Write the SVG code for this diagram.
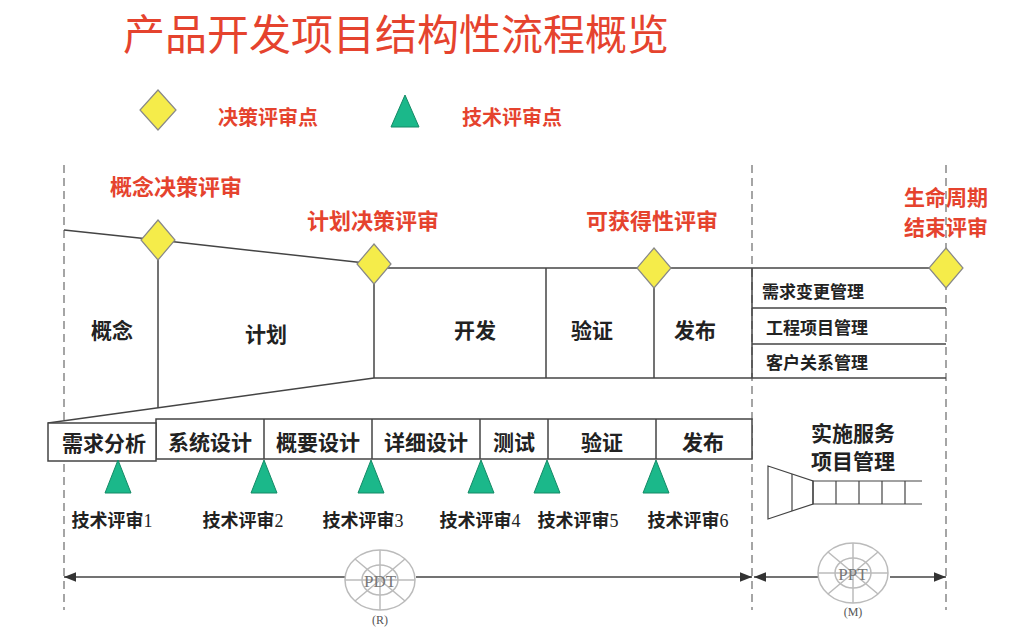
<svg xmlns="http://www.w3.org/2000/svg" width="1024" height="643" viewBox="0 0 1024 643">
<style>
text{font-family:"Noto Sans CJK SC","Liberation Sans",sans-serif;font-weight:bold}
.red{fill:#e5432e;font-size:22px}
.blk{fill:#222;font-size:21px}
.ln{stroke:#444;stroke-width:1.5;fill:none}
.dash{stroke:#888;stroke-width:1.5;stroke-dasharray:8 5}
.dia{fill:#f5ec4a;stroke:#888;stroke-width:1.2}
.tri{fill:#1bb88a;stroke:#148a66;stroke-width:1}
.bx{fill:#fff;stroke:#444;stroke-width:1.5}
.lg{fill:none;stroke:#bbb;stroke-width:1.5}
.tr{fill:#222;font-size:18px}
.sm{fill:#222;font-size:17px}
</style>
<defs><marker id="ar" viewBox="0 0 10 10" refX="10" refY="5" markerWidth="8" markerHeight="8" orient="auto-start-reverse"><path d="M0,1L10,5L0,9z" fill="#333"/></marker></defs>
<rect width="1024" height="643" fill="#fff"/>
<text x="123" y="50" style="fill:#e5432e;font-size:42px;font-weight:normal">产品开发项目结构性流程概览</text>
<g id="legend">
<polygon class="dia" points="158,90 176,110 158,130 140,110"/>
<text class="red" x="218" y="125" style="font-size:20px">决策评审点</text>
<polygon class="tri" points="405,95 419,127 391,127"/>
<text class="red" x="462" y="125" style="font-size:20px">技术评审点</text>
</g>
<g id="connectors">
<line class="dash" x1="64" y1="165" x2="64" y2="610"/>
<line class="dash" x1="752" y1="165" x2="752" y2="610"/>
<line class="dash" x1="946" y1="165" x2="946" y2="610"/>
<polyline class="ln" points="64,230 158,240 374,264"/>
<line class="ln" x1="374" y1="268" x2="946" y2="268"/>
<line class="ln" x1="374" y1="378" x2="946" y2="378"/>
<line class="ln" x1="48" y1="423" x2="374" y2="378"/>
<line class="ln" x1="158" y1="240" x2="158" y2="408"/>
<line class="ln" x1="374" y1="264" x2="374" y2="378"/>
<line class="ln" x1="546" y1="268" x2="546" y2="378"/>
<line class="ln" x1="654" y1="268" x2="654" y2="378"/>
<line class="ln" x1="752" y1="268" x2="752" y2="378"/>
<line class="ln" x1="752" y1="308" x2="946" y2="308"/>
<line class="ln" x1="752" y1="344" x2="946" y2="344"/>
<line class="ln" x1="64" y1="577" x2="345" y2="577" marker-start="url(#ar)"/>
<line class="ln" x1="416" y1="577" x2="752" y2="577" marker-end="url(#ar)"/>
<line class="ln" x1="754" y1="577" x2="818" y2="577" marker-start="url(#ar)"/>
<line class="ln" x1="890" y1="577" x2="946" y2="577" marker-end="url(#ar)"/>
</g>
<g id="decisions">
<polygon class="dia" points="158,220 175,240 158,260 141,240"/>
<polygon class="dia" points="374,244 391,264 374,284 357,264"/>
<polygon class="dia" points="654,248 671,268 654,288 637,268"/>
<polygon class="dia" points="946,248 963,268 946,288 929,268"/>
<text class="red" x="110" y="195">概念决策评审</text>
<text class="red" x="307" y="229">计划决策评审</text>
<text class="red" x="586" y="229">可获得性评审</text>
<text class="red" x="946" y="205" text-anchor="middle" style="font-size:21px">生命周期</text>
<text class="red" x="946" y="235" text-anchor="middle" style="font-size:21px">结束评审</text>
</g>
<g id="phases">
<text class="blk" x="112" y="338" text-anchor="middle">概念</text>
<text class="blk" x="266" y="342" text-anchor="middle">计划</text>
<text class="blk" x="475" y="338" text-anchor="middle">开发</text>
<text class="blk" x="592" y="338" text-anchor="middle">验证</text>
<text class="blk" x="695" y="338" text-anchor="middle">发布</text>
<text class="sm" x="762" y="298">需求变更管理</text>
<text class="sm" x="766" y="334">工程项目管理</text>
<text class="sm" x="766" y="369">客户关系管理</text>
</g>
<g id="steps">
<rect class="bx" x="156" y="419" width="596" height="40"/>
<rect class="bx" x="48" y="423" width="108" height="38"/>
<line class="ln" x1="264" y1="419" x2="264" y2="459"/>
<line class="ln" x1="372" y1="419" x2="372" y2="459"/>
<line class="ln" x1="480" y1="419" x2="480" y2="459"/>
<line class="ln" x1="548" y1="419" x2="548" y2="459"/>
<line class="ln" x1="656" y1="419" x2="656" y2="459"/>
<text class="blk" x="104" y="451" text-anchor="middle">需求分析</text>
<text class="blk" x="210" y="450" text-anchor="middle">系统设计</text>
<text class="blk" x="318" y="450" text-anchor="middle">概要设计</text>
<text class="blk" x="426" y="450" text-anchor="middle">详细设计</text>
<text class="blk" x="514" y="450" text-anchor="middle">测试</text>
<text class="blk" x="602" y="450" text-anchor="middle">验证</text>
<text class="blk" x="703" y="450" text-anchor="middle">发布</text>
</g>
<g id="tech">
<polygon class="tri" points="118,460 131,493 105,493"/>
<polygon class="tri" points="264,460 277,493 251,493"/>
<polygon class="tri" points="371,460 384,493 358,493"/>
<polygon class="tri" points="481,460 494,493 468,493"/>
<polygon class="tri" points="547,460 560,493 534,493"/>
<polygon class="tri" points="656,460 669,493 643,493"/>
<text class="tr" x="112" y="527" text-anchor="middle">技术评审<tspan font-family="Liberation Serif" font-weight="normal">1</tspan></text>
<text class="tr" x="243" y="527" text-anchor="middle">技术评审<tspan font-family="Liberation Serif" font-weight="normal">2</tspan></text>
<text class="tr" x="363" y="527" text-anchor="middle">技术评审<tspan font-family="Liberation Serif" font-weight="normal">3</tspan></text>
<text class="tr" x="480" y="527" text-anchor="middle">技术评审<tspan font-family="Liberation Serif" font-weight="normal">4</tspan></text>
<text class="tr" x="578" y="527" text-anchor="middle">技术评审<tspan font-family="Liberation Serif" font-weight="normal">5</tspan></text>
<text class="tr" x="688" y="527" text-anchor="middle">技术评审<tspan font-family="Liberation Serif" font-weight="normal">6</tspan></text>
</g>
<g id="service">
<text class="blk" x="853" y="441" text-anchor="middle">实施服务</text>
<text class="blk" x="853" y="469" text-anchor="middle">项目管理</text>
<polygon class="ln" points="768,466 813,481 813,504 768,519" style="stroke-width:1.2"/>
<line class="ln" x1="792" y1="474" x2="792" y2="511" style="stroke-width:1.2"/>
<polyline class="ln" points="922,481 813,481 813,504 922,504" style="stroke-width:1.2"/>
<g class="ln" style="stroke-width:1.2"><line x1="836" y1="481" x2="836" y2="504"/><line x1="859" y1="481" x2="859" y2="504"/><line x1="882" y1="481" x2="882" y2="504"/><line x1="905" y1="481" x2="905" y2="504"/></g>
</g>
<g id="pdt">
<ellipse class="lg" cx="380" cy="580" rx="35" ry="30"/>
<ellipse class="lg" cx="380" cy="580" rx="18" ry="15"/>
<line class="lg" x1="345" y1="580" x2="415" y2="580"/><line class="lg" x1="380" y1="550" x2="380" y2="610"/>
<line class="lg" x1="355" y1="559" x2="405" y2="601"/><line class="lg" x1="405" y1="559" x2="355" y2="601"/>
<text x="380" y="587" text-anchor="middle" style="font-family:'Liberation Serif',serif;font-weight:normal;font-size:17px;fill:#777">PDT</text>
<text x="380" y="624" text-anchor="middle" style="font-family:'Liberation Serif',serif;font-weight:normal;font-size:12px;fill:#555">(R)</text>
</g>
<g id="ppt">
<ellipse class="lg" cx="853" cy="573" rx="35" ry="30"/>
<ellipse class="lg" cx="853" cy="573" rx="18" ry="15"/>
<line class="lg" x1="818" y1="573" x2="888" y2="573"/><line class="lg" x1="853" y1="543" x2="853" y2="603"/>
<line class="lg" x1="828" y1="552" x2="878" y2="594"/><line class="lg" x1="878" y1="552" x2="828" y2="594"/>
<text x="853" y="580" text-anchor="middle" style="font-family:'Liberation Serif',serif;font-weight:normal;font-size:17px;fill:#777">PPT</text>
<text x="853" y="616" text-anchor="middle" style="font-family:'Liberation Serif',serif;font-weight:normal;font-size:12px;fill:#555">(M)</text>
</g>
</svg>
